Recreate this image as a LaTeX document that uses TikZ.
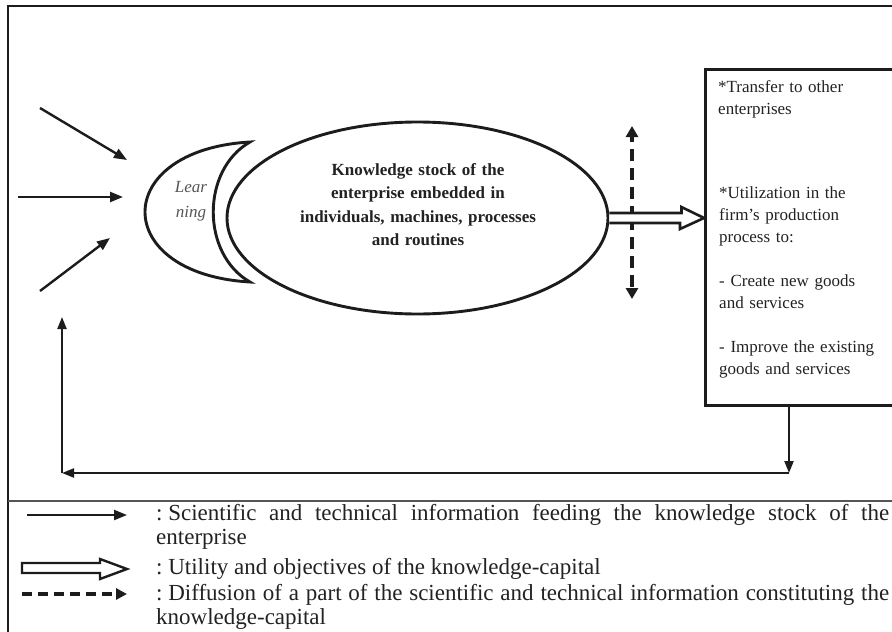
\documentclass[tikz,border=0pt]{standalone}
\usepackage{fontspec}
\setmainfont{Liberation Serif}
\usetikzlibrary{arrows.meta,shapes.geometric}
\definecolor{ink}{HTML}{1c1c1c}
\definecolor{txtc}{HTML}{222222}
\newcommand{\lgcolon}{:\hspace{0.25em}}
\begin{document}
\begin{tikzpicture}[x=1pt,y=-1pt,
  feed/.style={line width=2.4pt, draw=ink, -{Triangle[length=13pt,width=10pt]}},
  fback/.style={line width=2.2pt, draw=ink, -{Triangle[length=12pt,width=9pt]}},
  diff/.style={line width=3.4pt, draw=ink, dash pattern=on 12pt off 7pt, -{Triangle[length=11pt,width=12pt]}},
  dbl/.style={line width=2.6pt, draw=ink, fill=white, line join=miter},
  shp/.style={line width=2.9pt, draw=ink},
  boxtxt/.style={text=txtc, inner sep=0pt, align=left, text width=175pt, font=\fontsize{17}{22}\selectfont},
  legtxt/.style={text=txtc, inner sep=0pt, text width=733pt, align=justify, font=\fontsize{23}{24.5}\selectfont}]
\useasboundingbox (0,0) rectangle (892,632);
% outer frame and separator
\draw[line width=2.2pt, ink] (8,760) -- (8,6) -- (960,6);
\draw[line width=1.8pt, ink!75] (8,501) -- (960,501);
% right box
\node[draw=ink, line width=2.8pt, minimum width=300pt, minimum height=336pt, anchor=north west, inner sep=0pt] (box) at (704,68) {};
\node[boxtxt, anchor=base west] (t1) at (718,92) {\fontsize{17}{23}\selectfont *Transfer to other\\enterprises};
\node[boxtxt, anchor=base west] (t2) at (719,198) {*Utilization in the\\firm's production\\process to:\\[22pt]- Create new goods\\and services\\[22pt]- Improve the existing\\goods and services};
% knowledge stock ellipse
\node[ellipse, shp, minimum width=381pt, minimum height=192pt, inner sep=0pt] (stock) at (417.5,218) {};
\node[text=txtc, inner sep=0pt, text width=300pt, align=center, anchor=base, font=\bfseries\fontsize{17}{23.5}\selectfont] (kt) at (418,175) {Knowledge stock of the\\enterprise embedded in\\individuals, machines, processes\\and routines};
% learning crescent
\draw[shp, line join=miter] (250,142) .. controls (110,150) and (110,274) .. (250,282)
   .. controls (201,254) and (201,170) .. cycle;
\node[text=ink!75, inner sep=0pt, text width=40pt, align=center, anchor=base, font=\itshape\fontsize{17}{25}\selectfont] (learn) at (191,192) {Lear\\ning};
% incoming information arrows
\coordinate (i1s) at (40,108); \coordinate (i1e) at (127,160);
\coordinate (i2s) at (18,197); \coordinate (i2e) at (123,197);
\coordinate (i3s) at (40,291); \coordinate (i3e) at (110,238);
\draw[feed] (i1s) -- (i1e);
\draw[feed] (i2s) -- (i2e);
\draw[feed] (i3s) -- (i3e);
% diffusion (dashed) arrows
\coordinate (dc) at (632,218);
\coordinate (dup) at (632,126);
\coordinate (ddn) at (632,299);
\draw[diff] (dc) -- (dup);
\draw[diff] (dc) -- (ddn);
% utility double arrow
\coordinate (tip) at (stock.east -| box.west);
\draw[dbl] ([yshift=5pt]stock.east) -- ++(72,0) -- ++(0,-6) -- (tip) -- ++(-24,11) -- ++(0,-6) -- ([yshift=-5pt]stock.east);
% feedback loop
\coordinate (fb1) at ([xshift=85pt]box.south west);
\coordinate (fb2) at (789,473);
\coordinate (fb3) at (62,473);
\coordinate (fb4) at (62,317);
\draw[fback] (fb1) -- (fb2);
\draw[fback] (fb2) -- (fb3);
\draw[fback] (fb3) -- (fb4);
% legend
\coordinate (la1) at (27,515); \coordinate (la2) at (127,515);
\draw[feed, line width=2.2pt] (la1) -- (la2);
\draw[line width=2.4pt, draw=ink, line join=miter] (22,563) -- (100,563) -- (100,559) -- (127,569) -- (100,579) -- (100,573) -- (22,573) -- cycle;
\coordinate (lc1) at (22,594); \coordinate (lc2) at (127,594);
\draw[line width=3.4pt, draw=ink, dash pattern=on 10pt off 6pt, -{Triangle[length=11pt,width=11pt]}] (lc1) -- (lc2);
\node[legtxt, anchor=base west] (l1) at (156,520) {\lgcolon Scientific and technical information feeding the knowledge stock of the\linebreak enterprise};
\node[legtxt, anchor=base west] (l2) at (156,574) {\lgcolon Utility and objectives of the knowledge-capital};
\node[legtxt, anchor=base west] (l3) at (156,600) {\lgcolon Diffusion of a part of the scientific and technical information constituting the\linebreak knowledge-capital};
\end{tikzpicture}
\end{document}
